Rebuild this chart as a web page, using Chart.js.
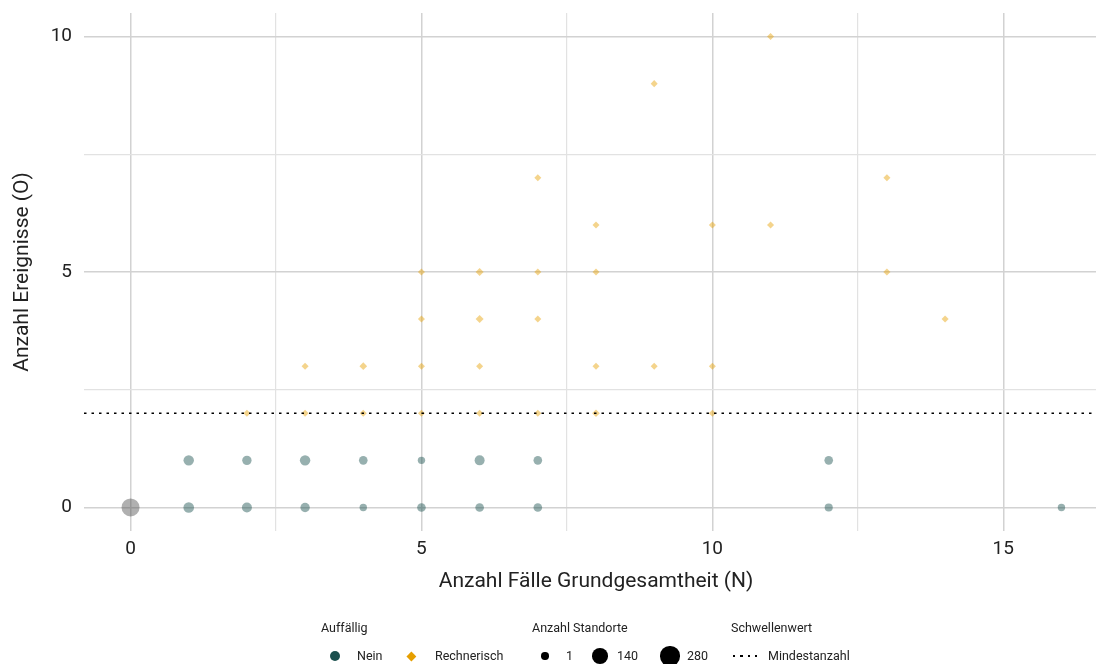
<!DOCTYPE html>
<html lang="de">
<head>
<meta charset="utf-8">
<title>Anzahl Ereignisse vs. Anzahl Fälle</title>
<script src="https://cdn.jsdelivr.net/npm/chart.js@4/dist/chart.umd.min.js"></script>
<style>
  html, body { margin: 0; padding: 0; background: #fff; overflow: hidden; }
  #wrap { position: relative; width: 1096px; height: 664px; overflow: hidden; font-family: Roboto, sans-serif; color: #222; }
  #chart { position: absolute; left: 0; top: 0; }
  #legend div { position: absolute; white-space: nowrap; font-size: 12.5px; line-height: 16px; }
</style>
</head>
<body>
<div id="wrap">
  <!-- the plot panel runs slightly past the right edge of the picture -->
  <canvas id="chart" width="1108" height="664"></canvas>
  <div id="legend"></div>
</div>
<script>
const xTicks = [0, 2.5, 5, 7.5, 10, 12.5, 15];
const yTicks = [0, 2.5, 5, 7.5, 10];
const xRange = [-0.8, 16.8];
const yRange = [-0.5, 10.5];
const threshold = 2;

// Auffällig: Nein
const neinN = [1, 2, 3, 4, 5, 6, 7, 12, 16, 1, 2, 3, 4, 5, 6, 7, 12];
const neinO = [0, 0, 0, 0, 0, 0, 0, 0, 0, 1, 1, 1, 1, 1, 1, 1, 1];
const neinStandorte = [22, 15, 9, 1, 4, 4, 4, 2, 1, 20, 9, 20, 4, 1, 15, 4, 4];

// Auffällig: Rechnerisch
const rechN = [2, 3, 4, 5, 6, 7, 8, 10, 3, 4, 5, 6, 8, 9, 10, 5, 6, 7, 14, 5, 6, 7, 8, 13, 8, 10, 11, 7, 13, 9, 11];
const rechO = [2, 2, 2, 2, 2, 2, 2, 2, 3, 3, 3, 3, 3, 3, 3, 4, 4, 4, 4, 5, 5, 5, 5, 5, 6, 6, 6, 7, 7, 9, 10];
const rechStandorte = [1, 1, 1, 1, 1, 1, 2, 1, 1, 2, 1, 1, 1, 1, 1, 1, 3, 1, 1, 1, 3, 1, 1, 1, 1, 1, 1, 1, 1, 1, 1];

// ohne Fälle
const grauN = [0];
const grauO = [0];
const grauStandorte = [233];

const sizeBreaks = [1, 140, 280];

const tealCol = "rgba(25, 80, 78, 0.45)";
const orangeCol = "rgba(230, 159, 0, 0.45)";
const greyCol = "rgba(80, 80, 80, 0.45)";

function rad(n) {
	return 3.7 + 6.5 * Math.sqrt((n - 1) / 349);
}

function toPoints(xs, ys) {
	return xs.map((x, i) => ({x: x, y: ys[i]}));
}

// grid: major lines at multiples of 5, lighter minor lines between
const gridColor = (c) => (c.tick && c.tick.value % 5 === 0) ? "#d2d2d2" : "#e2e2e2";
const gridWidth = (c) => (c.tick && c.tick.value % 5 === 0) ? 1.5 : 1.2;

const ctx = document.getElementById("chart").getContext("2d");

const chart = new Chart(ctx, {
	type: "scatter",
	data: {
		datasets: [
			{
				type: "line",
				label: "Mindestanzahl",
				data: [{x: xRange[0], y: threshold}, {x: xRange[1], y: threshold}],
				borderColor: "#000",
				borderWidth: 1.6,
				borderDash: [2.5, 5],
				pointRadius: 0,
				fill: false,
				order: 0,
			},
			{
				label: "Rechnerisch",
				data: toPoints(rechN, rechO),
				backgroundColor: orangeCol,
				borderWidth: 0,
				pointStyle: "rectRot",
				pointRadius: (c) => 0.95 * rad(rechStandorte[c.dataIndex]),
				order: 1,
			},
			{
				label: "Nein",
				data: toPoints(neinN, neinO),
				backgroundColor: tealCol,
				borderWidth: 0,
				pointRadius: (c) => rad(neinStandorte[c.dataIndex]),
				order: 2,
			},
			{
				label: "ohne",
				data: toPoints(grauN, grauO),
				backgroundColor: greyCol,
				borderWidth: 0,
				pointRadius: (c) => rad(grauStandorte[c.dataIndex]),
				order: 3,
			},
		],
	},
	options: {
		responsive: false,
		animation: false,
		layout: {
			autoPadding: false,
			padding: {left: 0, right: 0, top: 13, bottom: 53}
		},
		plugins: {
			legend: {display: false},
			tooltip: {enabled: false},
		},
		scales: {
			x: {
				type: "linear",
				min: xRange[0],
				max: xRange[1],
				afterBuildTicks: (scale) => { scale.ticks = xTicks.map(v => ({value: v})); },
				afterFit: (scale) => {
					scale.height = 80;
					scale.paddingLeft = 0;
					scale.paddingRight = 0;
				},
				border: {display: false},
				grid: {drawTicks: false, color: gridColor, lineWidth: gridWidth},
				ticks: {
					autoSkip: false,
					maxRotation: 0,
					padding: 7,
					color: "#222",
					font: {family: "Roboto", size: 19},
					callback: function(value) {
						return value % 5 === 0 ? value : "";
					}
				},
				title: {
					display: true,
					text: "Anzahl Fälle Grundgesamtheit (N)",
					color: "#222",
					font: {family: "Roboto", size: 21},
					padding: {top: 0, bottom: 17},
				},
			},
			y: {
				type: "linear",
				min: yRange[0],
				max: yRange[1],
				afterBuildTicks: (scale) => { scale.ticks = yTicks.map(v => ({value: v})); },
				afterFit: (scale) => {
					scale.width = 84;
					scale.paddingTop = 0;
					scale.paddingBottom = 0;
				},
				border: {display: false},
				grid: {drawTicks: false, color: gridColor, lineWidth: gridWidth},
				ticks: {
					autoSkip: false,
					padding: 12,
					color: "#222",
					font: {family: "Roboto", size: 19},
					callback: function(value) {
						return value % 5 === 0 ? value : "";
					}
				},
				title: {
					display: true,
					text: "Anzahl Ereignisse (O)",
					color: "#222",
					font: {family: "Roboto", size: 21},
					padding: {top: 10, bottom: 0},
				},
			},
		},
	},
});

// legend below the plot
const legendEl = document.getElementById("legend");
function put(text, style) {
	const d = document.createElement("div");
	d.textContent = text;
	Object.assign(d.style, style);
	legendEl.appendChild(d);
	return d;
}
function txt(text, left, cy) {
	put(text, {left: left + "px", top: (cy - 8) + "px"});
}
function dot(cx, cy, r, col) {
	put("", {left: (cx - r) + "px", top: (cy - r) + "px", width: 2 * r + "px", height: 2 * r + "px",
		borderRadius: "50%", background: col});
}

const titleY = 628;
const rowY = 656;

txt("Auffällig", 321, titleY);
dot(335, rowY, 5.2, "#1b504e");
txt("Nein", 357, rowY);
const s = 4.8 * Math.SQRT2;
put("", {left: (411 - s / 2) + "px", top: (rowY - s / 2) + "px", width: s + "px", height: s + "px",
	background: "#e69f00", transform: "rotate(45deg)"});
txt("Rechnerisch", 435, rowY);

txt("Anzahl Standorte", 532, titleY);
const sizeX = [545, 600, 670];
const sizeLabelX = [566, 617, 687];
sizeBreaks.forEach((b, i) => {
	dot(sizeX[i], rowY, rad(b), "#000");
	txt(String(b), sizeLabelX[i], rowY);
});

txt("Schwellenwert", 731, titleY);
put("", {left: "733px", top: (rowY - 0.8) + "px", width: "24px", height: "1.6px",
	background: "repeating-linear-gradient(to right, #000 0 2.5px, transparent 2.5px 7.5px)"});
txt("Mindestanzahl", 768, rowY);
</script>
</body>
</html>
